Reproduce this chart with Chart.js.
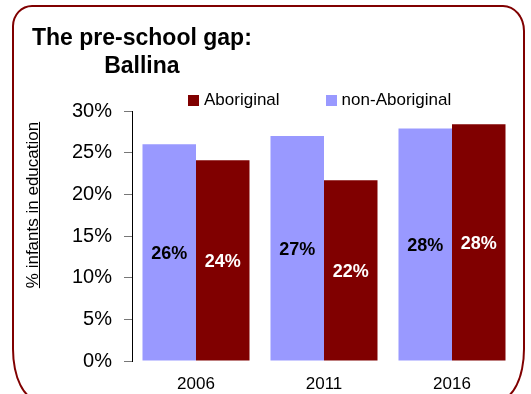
<!DOCTYPE html>
<html>
<head>
<meta charset="utf-8">
<script src="https://cdn.jsdelivr.net/npm/chart.js@4.4.0/dist/chart.umd.min.js"></script>
<style>
  html, body { margin: 0; padding: 0; background: #fff; overflow: hidden; }
  #wrap { position: relative; width: 531px; height: 394px; font-family: "Liberation Sans", Arial, sans-serif; }
  #frame {
    position: absolute; left: 12px; top: 5px; width: 513px; height: 396px;
    box-sizing: border-box; border: 2.5px solid #800000;
    border-radius: 20px 22px 26px 26px / 21px 26px 52px 52px;
  }
  #title {
    position: absolute; left: 32px; top: 23px;
    font-weight: bold; font-size: 23px; line-height: 28px; text-align: center; color: #000;
  }
  #legend { position: absolute; left: 188px; top: 90px; display: flex; font-size: 17px; line-height: 20px; color: #000; }
  #legend .item { display: flex; align-items: center; margin-right: 46px; }
  #legend .box { width: 11px; height: 11px; margin-right: 5px; margin-top: 1px; }
  #ytitle {
    position: absolute; left: 33px; top: 205px; white-space: nowrap;
    font-size: 17px; line-height: 20px; color: #000; text-decoration: underline;
    transform: translate(-50%, -50%) rotate(-90deg);
  }
  canvas { position: absolute; left: 0; top: 0; }
</style>
</head>
<body>
<div id="wrap">
  <canvas id="chart" width="531" height="394"></canvas>
  <div id="frame"></div>
  <div id="title">The pre-school gap:<br>Ballina</div>
  <div id="legend"></div>
  <div id="ytitle">% infants in education</div>
</div>
<script>
// ---------- dados ----------
const years = ["2006", "2011", "2016"];
const nonAboriginal = [26.0, 27.0, 27.9];
const aboriginal = [24.1, 21.7, 28.4];
const yTicks = [0, 5, 10, 15, 20, 25, 30];

const BLUE = "#9999ff";
const RED = "#800000";

// rótulos dentro das barras (valor arredondado)
const barLabels = {
  id: "barLabels",
  afterDatasetsDraw(chart) {
    const ctx = chart.ctx;
    ctx.save();
    ctx.font = "bold 18px 'Liberation Sans', Arial, sans-serif";
    ctx.textAlign = "center";
    ctx.textBaseline = "middle";
    chart.data.datasets.forEach((ds, i) => {
      const meta = chart.getDatasetMeta(i);
      ctx.fillStyle = ds.labelColor;
      meta.data.forEach((bar, j) => {
        const v = ds.data[j];
        ctx.fillText(Math.round(v) + "%", bar.x, (bar.y + bar.base) / 2 + 2);
      });
    });
    ctx.restore();
  }
};

const ctx = document.getElementById("chart").getContext("2d");
const chart = new Chart(ctx, {
  type: "bar",
  data: {
    labels: years,
    datasets: [
      { label: "non-Aboriginal", data: nonAboriginal, backgroundColor: BLUE, labelColor: "#000" },
      { label: "Aboriginal", data: aboriginal, backgroundColor: RED, labelColor: "#fff" }
    ]
  },
  options: {
    responsive: false,
    animation: false,
    devicePixelRatio: 1,
    categoryPercentage: 0.836,
    barPercentage: 1,
    layout: { padding: { top: 111, left: 72, right: 15, bottom: 0 } },
    plugins: { legend: { display: false }, title: { display: false }, tooltip: { enabled: false } },
    scales: {
      x: {
        grid: { display: false, drawTicks: false },
        border: { display: false },
        ticks: { color: "#000", padding: 13, font: { size: 17, family: "'Liberation Sans', Arial, sans-serif" } },
        afterFit(scale) { scale.height = 33; }
      },
      y: {
        min: 0,
        max: 30,
        afterBuildTicks(scale) { scale.ticks = yTicks.map(v => ({ value: v })); },
        grid: { display: true, drawOnChartArea: false, drawTicks: true, tickLength: 8, color: "#777" },
        border: { display: true, color: "#000", width: 1 },
        ticks: {
          color: "#000",
          padding: 12,
          font: { size: 20, family: "'Liberation Sans', Arial, sans-serif" },
          callback: v => v + "%"
        },
        afterFit(scale) { scale.width = 60; }
      }
    }
  },
  plugins: [barLabels]
});

// legenda em HTML (Aboriginal primeiro)
const legend = document.getElementById("legend");
chart.data.datasets.slice().reverse().forEach(ds => {
  legend.innerHTML += `<div class="item"><span class="box" style="background:${ds.backgroundColor}"></span>${ds.label}</div>`;
});
</script>
</body>
</html>
